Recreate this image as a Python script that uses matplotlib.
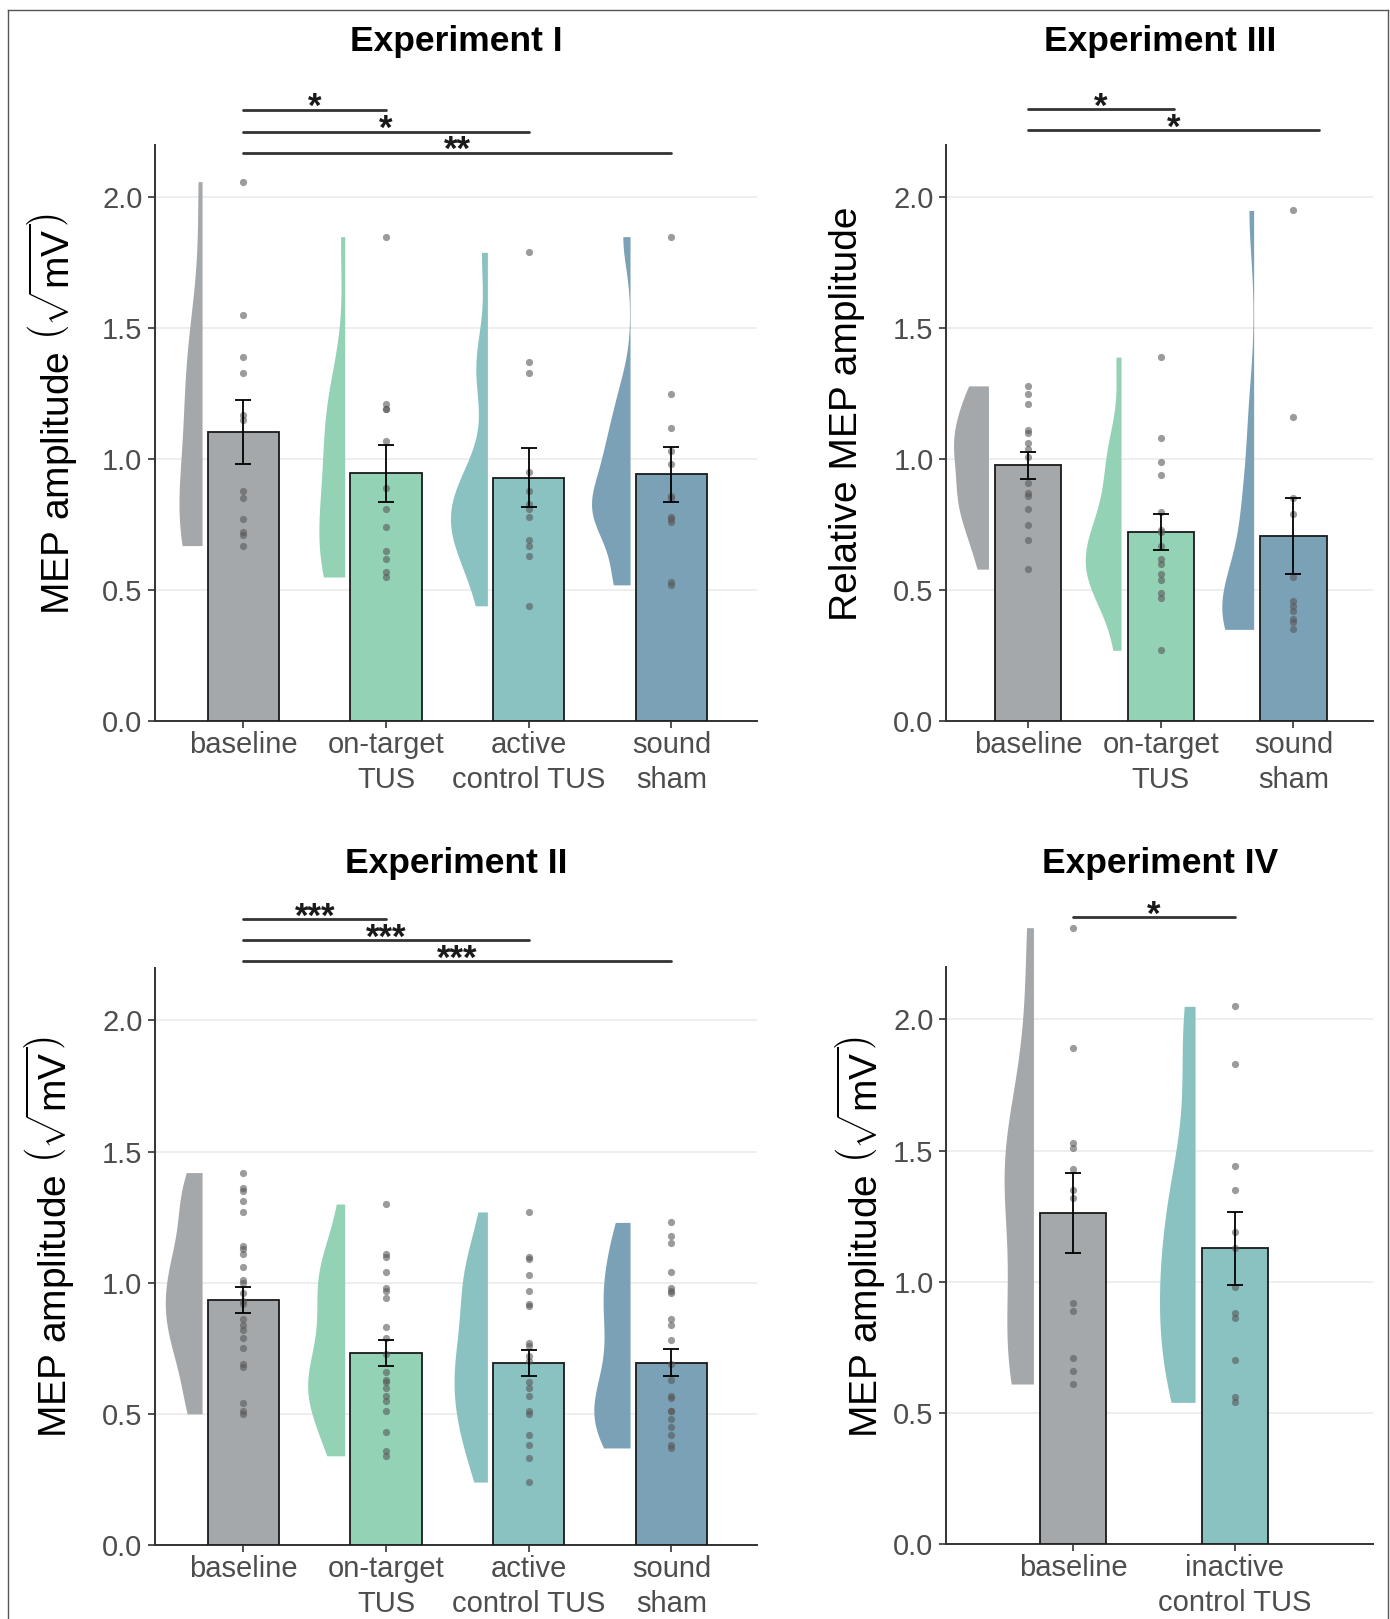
import numpy as np
import matplotlib
matplotlib.use('Agg')
import matplotlib.pyplot as plt
from matplotlib.lines import Line2D

plt.rcParams['font.family'] = ['Liberation Sans', 'DejaVu Sans']
plt.rcParams['mathtext.fontset'] = 'custom'
plt.rcParams['mathtext.rm'] = 'Liberation Sans'
plt.rcParams['mathtext.it'] = 'Liberation Sans:italic'
plt.rcParams['mathtext.bf'] = 'Liberation Sans:bold'

# ---------------- data ----------------
# Experiment I
cats_I = ["baseline", "on-target\nTUS", "active\ncontrol TUS", "sound\nsham"]
baseline_I = [2.06, 1.55, 1.39, 1.33, 1.17, 1.15, 0.88, 0.85, 0.77, 0.72, 0.71, 0.67]
ontarget_I = [1.85, 1.21, 1.19, 1.19, 1.07, 0.89, 0.81, 0.74, 0.65, 0.62, 0.57, 0.55]
active_I = [1.79, 1.37, 1.33, 0.95, 0.88, 0.83, 0.81, 0.78, 0.69, 0.67, 0.63, 0.44]
sham_I = [1.85, 1.25, 1.12, 1.03, 0.98, 0.86, 0.85, 0.78, 0.77, 0.76, 0.53, 0.52]
means_I = [1.104, 0.946, 0.930, 0.942]
sem_I = [0.122, 0.108, 0.111, 0.104]
sig_I = [(1, 2, "*", 2.335), (1, 3, "*", 2.251), (1, 4, "**", 2.171)]

# Experiment II
cats_II = ["baseline", "on-target\nTUS", "active\ncontrol TUS", "sound\nsham"]
baseline_II = [1.42, 1.36, 1.35, 1.31, 1.27, 1.14, 1.13, 1.11, 1.06, 1.01, 1.00, 0.96,
               0.93, 0.92, 0.86, 0.84, 0.82, 0.79, 0.75, 0.69, 0.68, 0.54, 0.51, 0.50]
ontarget_II = [1.30, 1.11, 1.10, 1.04, 0.98, 0.97, 0.94, 0.83, 0.79, 0.73, 0.66, 0.63,
               0.62, 0.60, 0.57, 0.55, 0.51, 0.43, 0.36, 0.34]
active_II = [1.27, 1.10, 1.09, 1.03, 0.97, 0.92, 0.91, 0.77, 0.76, 0.72, 0.70, 0.62,
             0.60, 0.57, 0.51, 0.50, 0.42, 0.38, 0.33, 0.24]
sham_II = [1.23, 1.18, 1.15, 1.04, 0.98, 0.97, 0.96, 0.86, 0.84, 0.78, 0.69, 0.63,
           0.57, 0.56, 0.51, 0.51, 0.48, 0.45, 0.42, 0.38, 0.37]
means_II = [0.933, 0.732, 0.694, 0.695]
sem_II = [0.050, 0.048, 0.050, 0.051]
sig_II = [(1, 2, "***", 2.387), (1, 3, "***", 2.306), (1, 4, "***", 2.225)]

# Experiment III
cats_III = ["baseline", "on-target\nTUS", "sound\nsham"]
baseline_III = [1.28, 1.25, 1.21, 1.11, 1.10, 1.06, 1.04, 1.01, 0.91, 0.87, 0.86, 0.81,
                0.75, 0.69, 0.58]
ontarget_III = [1.39, 1.08, 0.99, 0.94, 0.80, 0.73, 0.72, 0.67, 0.62, 0.60, 0.56, 0.54,
                0.49, 0.47, 0.27]
sham_III = [1.95, 1.16, 0.85, 0.79, 0.55, 0.46, 0.44, 0.42, 0.39, 0.38, 0.35]
means_III = [0.977, 0.722, 0.705]
sem_III = [0.051, 0.068, 0.145]
sig_III = [(1, 2.10, "*", 2.336), (1, 3.19, "*", 2.258)]

# Experiment IV
cats_IV = ["baseline", "inactive\ncontrol TUS"]
baseline_IV = [2.35, 1.89, 1.53, 1.51, 1.43, 1.35, 1.32, 0.92, 0.89, 0.71, 0.66, 0.61]
inactive_IV = [2.05, 1.83, 1.44, 1.35, 1.19, 1.13, 0.98, 0.88, 0.86, 0.70, 0.56, 0.54]
means_IV = [1.263, 1.127]
sem_IV = [0.153, 0.138]
sig_IV = [(1, 2, "*", 2.39)]

yticks = [0.0, 0.5, 1.0, 1.5, 2.0]
ylab_sqrt = r"MEP amplitude $\left(\sqrt{\mathrm{mV}}\right)$"
ylab_rel = "Relative MEP amplitude"

C_BASE = "#A4A8AB"
C_ON = "#94D2B6"
C_ACT = "#8AC2C2"
C_SHAM = "#7AA1B5"

# ---------------- figure ----------------
W, H = 1390, 1619
fig = plt.figure(figsize=(W / 100, H / 100), dpi=100)


def ax_at(l, t, r, b):
    return fig.add_axes([l / W, 1 - b / H, (r - l) / W, (b - t) / H])


def kde(vals, grid):
    v = np.asarray(vals, float)
    n = len(v)
    sd = v.std(ddof=1)
    q75, q25 = np.percentile(v, [75, 25])
    lo = min(sd, (q75 - q25) / 1.34)
    if lo <= 0:
        lo = sd
    bw = 0.9 * lo * n ** (-0.2)
    z = (grid[:, None] - v[None, :]) / bw
    return np.exp(-0.5 * z ** 2).sum(axis=1) / (n * bw * np.sqrt(2 * np.pi))


def panel(ax, groups, cats, colors, means, sems, xlim, barw, voff, vmax, sigs, dotsize=27):
    x = np.arange(1, len(groups) + 1)
    # violins (area scaled within the panel)
    grids, dens = [], []
    for g in groups:
        grid = np.linspace(min(g), max(g), 300)
        grids.append(grid)
        dens.append(kde(g, grid))
    scale = vmax / max(d.max() for d in dens)
    for xi, grid, d, c in zip(x, grids, dens, colors):
        edge = xi - voff
        ax.fill_betweenx(grid, edge - d * scale, edge, color=c, lw=0, zorder=2, clip_on=False)
    # bars
    ax.bar(x, means, width=barw, color=colors, edgecolor="#1a1a1a", linewidth=1.3, zorder=3)
    # points
    for xi, g in zip(x, groups):
        ax.scatter(np.full(len(g), xi), g, s=dotsize, color="#585858", alpha=0.6,
                   lw=0, zorder=4, clip_on=False)
    # error bars
    ax.errorbar(x, means, yerr=sems, fmt="none", ecolor="black", elinewidth=1.3,
                capsize=5.5, capthick=1.3, zorder=5)
    # significance
    for a, b, lab, y in sigs:
        ax.plot([a, b], [y, y], color="#333333", lw=2.0, clip_on=False,
                solid_capstyle="round", zorder=6)
        ax.annotate(lab, xy=((a + b) / 2, y), xytext=(0, -5.5), textcoords="offset points",
                    ha="center", va="baseline", fontsize=25, fontweight="bold",
                    color="#1a1a1a", annotation_clip=False)
    ax.set_xlim(*xlim)
    ax.set_ylim(0, 2.2)
    ax.set_yticks(yticks)
    ax.set_yticklabels([f"{t:.1f}" for t in yticks])
    ax.set_xticks(x)
    ax.set_xticklabels(cats, linespacing=1.28)
    ax.yaxis.grid(True, color="#EBEBEB", lw=1.2)
    ax.set_axisbelow(True)
    for s in ["top", "right"]:
        ax.spines[s].set_visible(False)
    for s in ["left", "bottom"]:
        ax.spines[s].set_color("#333333")
        ax.spines[s].set_linewidth(1.4)
    ax.tick_params(axis="both", colors="#333333", length=5, width=1.2,
                   labelsize=21, labelcolor="#4D4D4D")
    ax.tick_params(axis="x", pad=2.5)
    ax.tick_params(axis="y", pad=4)


# Experiment I
axI = ax_at(155, 145, 757, 721)
panel(axI, [baseline_I, ontarget_I, active_I, sham_I], cats_I,
      [C_BASE, C_ON, C_ACT, C_SHAM], means_I, sem_I, (0.38, 4.6), 0.5, 0.29, 0.27, sig_I)

# Experiment III
axIII = ax_at(946, 145, 1373, 721)
panel(axIII, [baseline_III, ontarget_III, sham_III], cats_III,
      [C_BASE, C_ON, C_SHAM], means_III, sem_III, (0.38, 3.6), 0.5, 0.3, 0.27, sig_III)

# Experiment II
axII = ax_at(155, 968, 757, 1545)
panel(axII, [baseline_II, ontarget_II, active_II, sham_II], cats_II,
      [C_BASE, C_ON, C_ACT, C_SHAM], means_II, sem_II, (0.38, 4.6), 0.5, 0.29, 0.26, sig_II)

# Experiment IV
axIV = ax_at(946, 967, 1373, 1544)
panel(axIV, [baseline_IV, inactive_IV], cats_IV,
      [C_BASE, C_ACT], means_IV, sem_IV, (0.214, 2.856), 0.41, 0.245, 0.22, sig_IV)

# titles
for txt, xc, yc in [("Experiment I", 456, 41), ("Experiment III", 1160, 41),
                    ("Experiment II", 456, 863), ("Experiment IV", 1160, 863)]:
    fig.text(xc / W, 1 - yc / H, txt, ha="center", va="center", fontsize=25.5,
             fontweight="bold", color="black")

# y labels
for txt, xc, yc in [(ylab_sqrt, 52, 414), (ylab_rel, 847, 414),
                    (ylab_sqrt, 49, 1237), (ylab_sqrt, 860, 1237)]:
    fig.text(xc / W, 1 - yc / H, txt, ha="center", va="center", rotation=90,
             fontsize=28, color="black")

# outer frame
frame_col = "#555555"
fig.add_artist(Line2D([8 / W, 8 / W], [-0.01, 1 - 10 / H], transform=fig.transFigure,
                      color=frame_col, lw=1.0))
fig.add_artist(Line2D([1388 / W, 1388 / W], [-0.01, 1 - 10 / H], transform=fig.transFigure,
                      color=frame_col, lw=1.0))
fig.add_artist(Line2D([8 / W, 1388 / W], [1 - 10 / H, 1 - 10 / H], transform=fig.transFigure,
                      color=frame_col, lw=1.0))

fig.savefig("out.png", dpi=100)
